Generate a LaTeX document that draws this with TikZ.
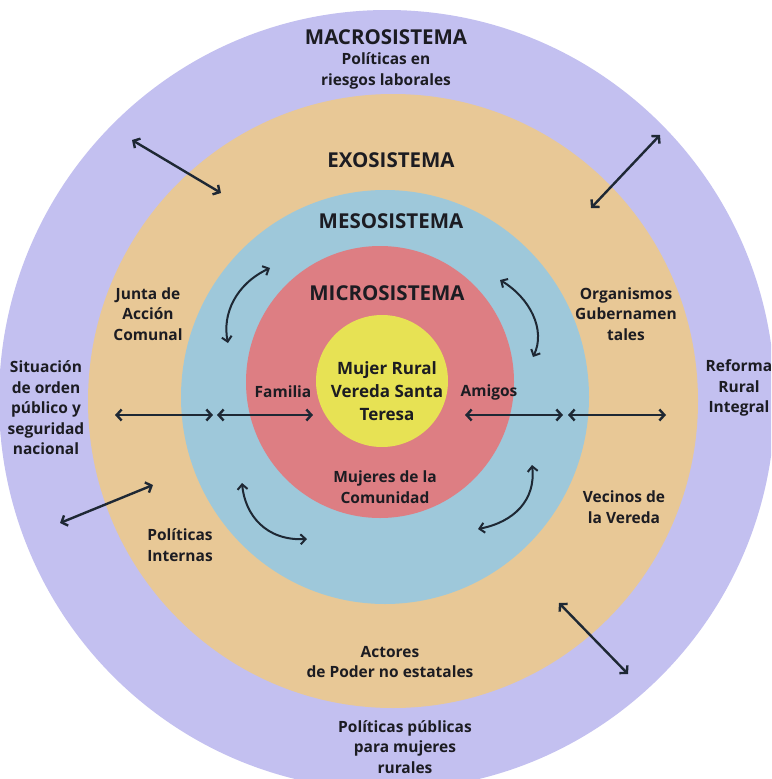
\documentclass[tikz,border=0pt]{standalone}
\usepackage{fontspec}
\setmainfont{Open Sans}
\usepackage{tikz}
\usetikzlibrary{arrows.meta,positioning}

\definecolor{macro}{RGB}{195,192,240}
\definecolor{exo}{RGB}{232,200,150}
\definecolor{meso}{RGB}{158,200,218}
\definecolor{micro}{RGB}{221,126,131}
\definecolor{core}{RGB}{231,226,84}
\definecolor{ink}{RGB}{28,28,34}
\definecolor{linkc}{RGB}{30,40,52}

\begin{document}
\begin{tikzpicture}
	[x=1pt,y=-1pt,
	title/.style={font=\fontsize{20.5}{24}\selectfont\bfseries,text=ink,inner sep=0pt},
	lbl/.style={font=\fontsize{15.5}{20.5}\selectfont\bfseries,text=ink,align=center,inner sep=0pt},
	corelbl/.style={font=\fontsize{17}{23}\selectfont\bfseries,text=ink,align=center,inner sep=0pt},
	link/.style={draw=linkc,line width=2.4pt,>={Straight Barb[length=5pt,width=11pt]},<->},
	curvelink/.style={draw=linkc,line width=2pt,>={Straight Barb[length=5pt,width=10pt]},<->}]
	\useasboundingbox (0,0) rectangle (771,779);
	\fill[white] (0,0) rectangle (771,779);
	\clip (0,0) rectangle (771,779);
	% rings
	\fill[macro] (387,400) ellipse [x radius=388pt,y radius=390pt];
	\fill[exo] (393,401) ellipse [x radius=305pt,y radius=307pt];
	\fill[meso] (385,397) ellipse [x radius=204pt,y radius=207pt];
	\fill[micro] (380,382) ellipse [x radius=134pt,y radius=136pt];
	\fill[core] (382,381) circle [radius=66pt];
	% titles
	\node[title] (macro) at (386,37) {MACROSISTEMA};
	\node[title] (exo) at (391,160) {EXOSISTEMA};
	\node[title] (meso) at (391,221) {MESOSISTEMA};
	\node[title] (micro) at (387,293) {MICROSISTEMA};
	\node[corelbl] (mujer) at (387,391) {Mujer Rural\\Vereda Santa\\Teresa};
	% labels
	\node[lbl] (riesgos) at (386,71) {Políticas en\\riesgos laborales};
	\node[lbl] (junta) at (148,314) {Junta de\\Acción\\Comunal};
	\node[lbl] (organismos) at (626,314) {Organismos\\Gubernamen\\tales};
	\node[lbl] (situacion) at (46,408) {Situación\\de orden\\público y\\seguridad\\nacional};
	\node[lbl] (reforma) at (739,388) {Reforma\\Rural\\Integral};
	\node[lbl] (familia) at (283,392) {Familia};
	\node[lbl] (amigos) at (489,392) {Amigos};
	\node[lbl] (mujeres) at (385,487) {Mujeres de la\\Comunidad};
	\node[lbl] (vecinos) at (624,507) {Vecinos de\\la Vereda};
	\node[lbl] (internas) at (180,545) {Políticas\\Internas};
	\node[lbl] (actores) at (390,662) {Actores\\de Poder no estatales};
	\node[lbl] (publicas) at (405,747) {Políticas públicas\\para mujeres\\rurales};
	% arrow ends
	\coordinate (tlA) at (132,140);
	\coordinate (tlB) at (221,193);
	\coordinate (trA) at (660,135);
	\coordinate (trB) at (591,208);
	\coordinate (blA) at (60,523);
	\coordinate (blB) at (153,485);
	\coordinate (brA) at (559,603);
	\coordinate (brB) at (628,674);
	\coordinate (hl1) at (115,415);
	\coordinate (hl2) at (213,415);
	\coordinate (hl3) at (217,415);
	\coordinate (hl4) at (313,415);
	\coordinate (hr1) at (465,415);
	\coordinate (hr2) at (563,415);
	\coordinate (hr3) at (568,415);
	\coordinate (hr4) at (666,415);
	\coordinate (cul1) at (270,268);
	\coordinate (cul2) at (228,343);
	\coordinate (cur1) at (500,280);
	\coordinate (cur2) at (533,357);
	\coordinate (cll1) at (242,483);
	\coordinate (cll2) at (307,539);
	\coordinate (clr1) at (532,465);
	\coordinate (clr2) at (478,529);
	% straight links
	\draw[link] (tlA) -- (tlB);
	\draw[link] (trA) -- (trB);
	\draw[link] (blA) -- (blB);
	\draw[link] (brA) -- (brB);
	\draw[link] (hl1) -- (hl2);
	\draw[link] (hl3) -- (hl4);
	\draw[link] (hr1) -- (hr2);
	\draw[link] (hr3) -- (hr4);
	% curved links
	\draw[curvelink] (cul1) .. controls (236,284) and (222,314) .. (cul2);
	\draw[curvelink] (cur1) .. controls (530,298) and (546,330) .. (cur2);
	\draw[curvelink] (cll1) .. controls (245,515) and (266,541) .. (cll2);
	\draw[curvelink] (clr1) .. controls (536,500) and (514,522) .. (clr2);
\end{tikzpicture}
\end{document}
